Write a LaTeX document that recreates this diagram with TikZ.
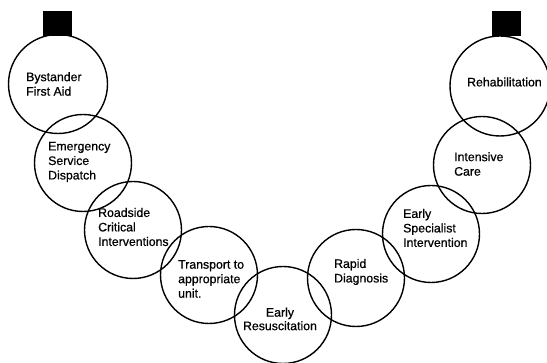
\documentclass[tikz,border=0pt]{standalone}
\usepackage{fontspec}
\setmainfont[FakeBold=0.7]{Liberation Sans}
\begin{document}
\begin{tikzpicture}[x=1pt,y=-1pt,
  ring/.style={draw=black,line width=1.4pt,circle,minimum size=97pt,inner sep=0pt},
  tab/.style={fill=black,draw=none,inner sep=0pt,minimum width=29pt,minimum height=25pt},
  lbl/.style={inner sep=0pt,align=left,anchor=west,font=\fontsize{12.3}{14.5}\selectfont},
  clbl/.style={inner sep=0pt,align=center,font=\fontsize{12.3}{13.5}\selectfont}]
\useasboundingbox (0,0) rectangle (547,363);
\node[tab] (k1) at (57,24) {};
\node[tab] (k2) at (506,24) {};
\node[ring,minimum size=99pt] (c1) at (58,84) {};
\node[ring] (c2) at (83,163) {};
\node[ring] (c3) at (133,230) {};
\node[ring] (c4) at (209,275) {};
\node[ring] (c5) at (283,315) {};
\node[ring] (c6) at (356,278) {};
\node[ring] (c7) at (431,234) {};
\node[ring] (c8) at (482,165) {};
\node[ring,minimum size=100pt] (c9) at (500,86) {};
\node[lbl] (t1) at (26,84) {Bystander\\First Aid};
\node[lbl] (t2) at (48,162) {Emergency\\Service\\Dispatch};
\node[lbl] (t3) at (98,227) {Roadside\\Critical\\Interventions};
\node[lbl] (t4) at (178,279) {Transport to\\appropriate\\unit.};
\node[clbl] (t5) at (280,319) {Early\\Resuscitation};
\node[lbl] (t6) at (334,272) {Rapid\\Diagnosis};
\node[lbl] (t7) at (403,228) {Early\\Specialist\\Intervention};
\node[lbl] (t8) at (454,164) {Intensive\\Care};
\node[lbl] (t9) at (467,82) {Rehabilitation};
\end{tikzpicture}
\end{document}
